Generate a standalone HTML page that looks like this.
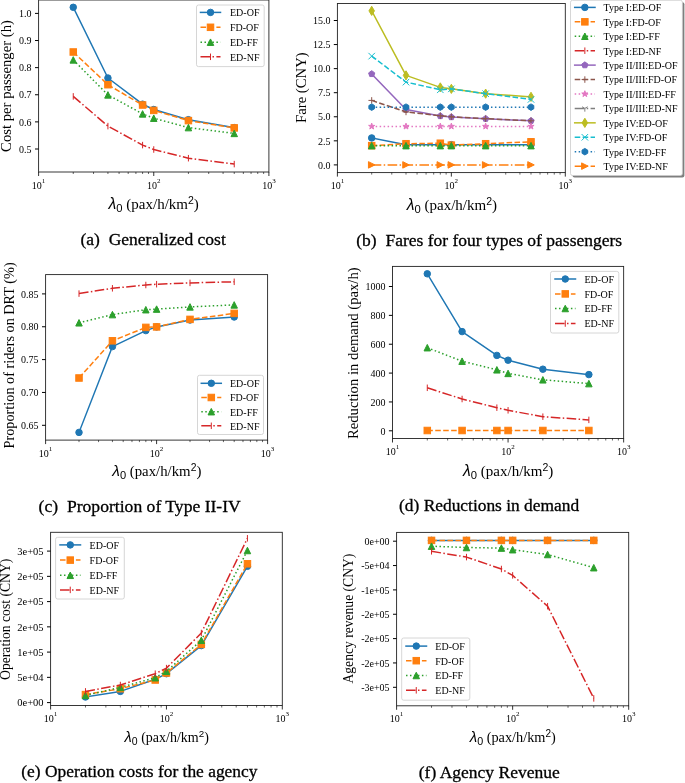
<!DOCTYPE html><html><head><meta charset="utf-8"><style>html,body{margin:0;padding:0;background:#fff;overflow:hidden}svg{display:block;filter:blur(0.35px)} .cap{stroke:#000;stroke-width:0.3px}</style></head><body>
<svg width="685" height="783" viewBox="0 0 685 783">
<rect width="685" height="783" fill="#fff"/>
<clipPath id="clip0"><rect x="38.6" y="0" width="230.3" height="172"/></clipPath>
<g clip-path="url(#clip0)">
<path d="M73.26,7.3L107.93,78L142.59,104.2L153.75,109.5L188.41,119.7L234.24,127.6" fill="none" stroke="#1f77b4" stroke-width="1.5" stroke-linejoin="round" stroke-linecap="square"/>
<circle cx="73.26" cy="7.3" r="3.25" fill="#1f77b4" stroke="#1f77b4" stroke-width="1"/>
<circle cx="107.93" cy="78" r="3.25" fill="#1f77b4" stroke="#1f77b4" stroke-width="1"/>
<circle cx="142.59" cy="104.2" r="3.25" fill="#1f77b4" stroke="#1f77b4" stroke-width="1"/>
<circle cx="153.75" cy="109.5" r="3.25" fill="#1f77b4" stroke="#1f77b4" stroke-width="1"/>
<circle cx="188.41" cy="119.7" r="3.25" fill="#1f77b4" stroke="#1f77b4" stroke-width="1"/>
<circle cx="234.24" cy="127.6" r="3.25" fill="#1f77b4" stroke="#1f77b4" stroke-width="1"/>
<path d="M73.26,52L107.93,84.7L142.59,105L153.75,110.4L188.41,120.6L234.24,127.9" fill="none" stroke="#ff7f0e" stroke-width="1.5" stroke-linejoin="round" stroke-linecap="butt" stroke-dasharray="5.55,2.4"/>
<rect x="70.01" y="48.75" width="6.5" height="6.5" fill="#ff7f0e" stroke="#ff7f0e" stroke-width="1"/>
<rect x="104.68" y="81.45" width="6.5" height="6.5" fill="#ff7f0e" stroke="#ff7f0e" stroke-width="1"/>
<rect x="139.34" y="101.75" width="6.5" height="6.5" fill="#ff7f0e" stroke="#ff7f0e" stroke-width="1"/>
<rect x="150.5" y="107.15" width="6.5" height="6.5" fill="#ff7f0e" stroke="#ff7f0e" stroke-width="1"/>
<rect x="185.16" y="117.35" width="6.5" height="6.5" fill="#ff7f0e" stroke="#ff7f0e" stroke-width="1"/>
<rect x="230.99" y="124.65" width="6.5" height="6.5" fill="#ff7f0e" stroke="#ff7f0e" stroke-width="1"/>
<path d="M73.26,59.9L107.93,94.9L142.59,113.9L153.75,118.2L188.41,127.6L234.24,133.4" fill="none" stroke="#2ca02c" stroke-width="1.5" stroke-linejoin="round" stroke-linecap="butt" stroke-dasharray="1.5,2.475"/>
<path d="M73.26,56.65L70.01,63.15L76.51,63.15Z" fill="#2ca02c" stroke="#2ca02c" stroke-width="1"/>
<path d="M107.93,91.65L104.68,98.15L111.18,98.15Z" fill="#2ca02c" stroke="#2ca02c" stroke-width="1"/>
<path d="M142.59,110.65L139.34,117.15L145.84,117.15Z" fill="#2ca02c" stroke="#2ca02c" stroke-width="1"/>
<path d="M153.75,114.95L150.5,121.45L157,121.45Z" fill="#2ca02c" stroke="#2ca02c" stroke-width="1"/>
<path d="M188.41,124.35L185.16,130.85L191.66,130.85Z" fill="#2ca02c" stroke="#2ca02c" stroke-width="1"/>
<path d="M234.24,130.15L230.99,136.65L237.49,136.65Z" fill="#2ca02c" stroke="#2ca02c" stroke-width="1"/>
<path d="M73.26,96.4L107.93,126.1L142.59,145.1L153.75,149.5L188.41,158.2L234.24,164.1" fill="none" stroke="#d62728" stroke-width="1.5" stroke-linejoin="round" stroke-linecap="butt" stroke-dasharray="9.6,2.4,1.5,2.4"/>
<path d="M73.26,93.15V99.65" stroke="#d62728" stroke-width="1" fill="none"/>
<path d="M107.93,122.85V129.35" stroke="#d62728" stroke-width="1" fill="none"/>
<path d="M142.59,141.85V148.35" stroke="#d62728" stroke-width="1" fill="none"/>
<path d="M153.75,146.25V152.75" stroke="#d62728" stroke-width="1" fill="none"/>
<path d="M188.41,154.95V161.45" stroke="#d62728" stroke-width="1" fill="none"/>
<path d="M234.24,160.85V167.35" stroke="#d62728" stroke-width="1" fill="none"/>
</g>
<rect x="38.6" y="0" width="230.3" height="172" fill="none" stroke="#222" stroke-width="0.9"/>
<text x="31.6" y="17.1" font-family="'Liberation Serif', serif" font-size="10" text-anchor="end">1.0</text>
<text x="31.6" y="44.22" font-family="'Liberation Serif', serif" font-size="10" text-anchor="end">0.9</text>
<text x="31.6" y="71.34" font-family="'Liberation Serif', serif" font-size="10" text-anchor="end">0.8</text>
<text x="31.6" y="98.46" font-family="'Liberation Serif', serif" font-size="10" text-anchor="end">0.7</text>
<text x="31.6" y="125.58" font-family="'Liberation Serif', serif" font-size="10" text-anchor="end">0.6</text>
<text x="31.6" y="152.7" font-family="'Liberation Serif', serif" font-size="10" text-anchor="end">0.5</text>
<path d="M35,13.4H38.6M35,40.52H38.6M35,67.64H38.6M35,94.76H38.6M35,121.88H38.6M35,149H38.6" stroke="#000" stroke-width="1"/>
<text x="38.6" y="188.5" font-family="'Liberation Serif', serif" font-size="10" text-anchor="middle">10<tspan font-size="7" dy="-6">1</tspan></text>
<text x="153.75" y="188.5" font-family="'Liberation Serif', serif" font-size="10" text-anchor="middle">10<tspan font-size="7" dy="-6">2</tspan></text>
<text x="268.9" y="188.5" font-family="'Liberation Serif', serif" font-size="10" text-anchor="middle">10<tspan font-size="7" dy="-6">3</tspan></text>
<path d="M38.6,172V176M153.75,172V176M268.9,172V176" stroke="#000" stroke-width="0.8"/>
<path d="M73.26,172V174M93.54,172V174M107.93,172V174M119.09,172V174M128.2,172V174M135.91,172V174M142.59,172V174M148.48,172V174M188.41,172V174M208.69,172V174M223.08,172V174M234.24,172V174M243.35,172V174M251.06,172V174M257.74,172V174M263.63,172V174" stroke="#000" stroke-width="0.6"/>
<text transform="translate(11,86) rotate(-90)" font-family="'Liberation Serif', serif" font-size="14.7" text-anchor="middle">Cost per passenger (h)</text>
<text x="153.7" y="209.3" font-size="15" text-anchor="middle" font-family="'Liberation Serif', serif"><tspan font-family="'Liberation Sans', sans-serif" font-style="italic" font-size="15.75">λ</tspan><tspan font-family="'Liberation Sans', sans-serif" font-size="11.25" dy="3">0</tspan><tspan dy="-3"> (pax/h/km</tspan><tspan font-family="'Liberation Sans', sans-serif" font-size="10.5" dy="-4.95">2</tspan><tspan dy="4.95">)</tspan></text>
<text x="80.5" y="245.2" font-family="'Liberation Serif', serif" font-size="17.5" text-anchor="start" xml:space="preserve" class="cap">(a)  Generalized cost</text>
<rect x="196.5" y="5" width="67.7" height="61.6" rx="2" fill="#fff" fill-opacity="0.8" stroke="#ccc" stroke-width="0.8"/>
<path d="M200.5,12.4L220.5,12.4" fill="none" stroke="#1f77b4" stroke-width="1.5" stroke-linejoin="round" stroke-linecap="square"/>
<circle cx="210.5" cy="12.4" r="3.25" fill="#1f77b4" stroke="#1f77b4" stroke-width="1"/>
<text x="230" y="16.3" font-family="'Liberation Serif', serif" font-size="10" text-anchor="start">ED-OF</text>
<path d="M200.5,27.3L220.5,27.3" fill="none" stroke="#ff7f0e" stroke-width="1.5" stroke-linejoin="round" stroke-linecap="butt" stroke-dasharray="5.55,2.4"/>
<rect x="207.25" y="24.05" width="6.5" height="6.5" fill="#ff7f0e" stroke="#ff7f0e" stroke-width="1"/>
<text x="230" y="31.2" font-family="'Liberation Serif', serif" font-size="10" text-anchor="start">FD-OF</text>
<path d="M200.5,42.2L220.5,42.2" fill="none" stroke="#2ca02c" stroke-width="1.5" stroke-linejoin="round" stroke-linecap="butt" stroke-dasharray="1.5,2.475"/>
<path d="M210.5,38.95L207.25,45.45L213.75,45.45Z" fill="#2ca02c" stroke="#2ca02c" stroke-width="1"/>
<text x="230" y="46.1" font-family="'Liberation Serif', serif" font-size="10" text-anchor="start">ED-FF</text>
<path d="M200.5,56.8L220.5,56.8" fill="none" stroke="#d62728" stroke-width="1.5" stroke-linejoin="round" stroke-linecap="butt" stroke-dasharray="9.6,2.4,1.5,2.4"/>
<path d="M210.5,53.55V60.05" stroke="#d62728" stroke-width="1" fill="none"/>
<text x="230" y="60.7" font-family="'Liberation Serif', serif" font-size="10" text-anchor="start">ED-NF</text>
<clipPath id="clip1"><rect x="337.4" y="3.45" width="227.9" height="169.15"/></clipPath>
<g clip-path="url(#clip1)">
<path d="M371.7,137.94L406,144.68L440.31,144.68L451.35,144.68L485.65,144.68L531,144.68" fill="none" stroke="#1f77b4" stroke-width="1.5" stroke-linejoin="round" stroke-linecap="square"/>
<circle cx="371.7" cy="137.94" r="3.25" fill="#1f77b4" stroke="#1f77b4" stroke-width="1"/>
<circle cx="406" cy="144.68" r="3.25" fill="#1f77b4" stroke="#1f77b4" stroke-width="1"/>
<circle cx="440.31" cy="144.68" r="3.25" fill="#1f77b4" stroke="#1f77b4" stroke-width="1"/>
<circle cx="451.35" cy="144.68" r="3.25" fill="#1f77b4" stroke="#1f77b4" stroke-width="1"/>
<circle cx="485.65" cy="144.68" r="3.25" fill="#1f77b4" stroke="#1f77b4" stroke-width="1"/>
<circle cx="531" cy="144.68" r="3.25" fill="#1f77b4" stroke="#1f77b4" stroke-width="1"/>
<path d="M371.7,145.65L406,143.72L440.31,143.24L451.35,145.16L485.65,143.72L531,141.8" fill="none" stroke="#ff7f0e" stroke-width="1.5" stroke-linejoin="round" stroke-linecap="butt" stroke-dasharray="5.55,2.4"/>
<rect x="368.45" y="142.4" width="6.5" height="6.5" fill="#ff7f0e" stroke="#ff7f0e" stroke-width="1"/>
<rect x="402.75" y="140.47" width="6.5" height="6.5" fill="#ff7f0e" stroke="#ff7f0e" stroke-width="1"/>
<rect x="437.06" y="139.99" width="6.5" height="6.5" fill="#ff7f0e" stroke="#ff7f0e" stroke-width="1"/>
<rect x="448.1" y="141.91" width="6.5" height="6.5" fill="#ff7f0e" stroke="#ff7f0e" stroke-width="1"/>
<rect x="482.4" y="140.47" width="6.5" height="6.5" fill="#ff7f0e" stroke="#ff7f0e" stroke-width="1"/>
<rect x="527.75" y="138.55" width="6.5" height="6.5" fill="#ff7f0e" stroke="#ff7f0e" stroke-width="1"/>
<path d="M371.7,145.65L406,145.65L440.31,145.65L451.35,145.65L485.65,145.65L531,145.65" fill="none" stroke="#2ca02c" stroke-width="1.5" stroke-linejoin="round" stroke-linecap="butt" stroke-dasharray="1.5,2.475"/>
<path d="M371.7,142.4L368.45,148.9L374.95,148.9Z" fill="#2ca02c" stroke="#2ca02c" stroke-width="1"/>
<path d="M406,142.4L402.75,148.9L409.25,148.9Z" fill="#2ca02c" stroke="#2ca02c" stroke-width="1"/>
<path d="M440.31,142.4L437.06,148.9L443.56,148.9Z" fill="#2ca02c" stroke="#2ca02c" stroke-width="1"/>
<path d="M451.35,142.4L448.1,148.9L454.6,148.9Z" fill="#2ca02c" stroke="#2ca02c" stroke-width="1"/>
<path d="M485.65,142.4L482.4,148.9L488.9,148.9Z" fill="#2ca02c" stroke="#2ca02c" stroke-width="1"/>
<path d="M531,142.4L527.75,148.9L534.25,148.9Z" fill="#2ca02c" stroke="#2ca02c" stroke-width="1"/>
<path d="M371.7,73.92L406,109.54L440.31,115.99L451.35,117.05L485.65,118.69L531,120.81" fill="none" stroke="#9467bd" stroke-width="1.5" stroke-linejoin="round" stroke-linecap="square"/>
<path d="M371.7,70.67L368.61,72.92L369.79,76.55L373.61,76.55L374.79,72.92Z" fill="#9467bd" stroke="#9467bd" stroke-width="1"/>
<path d="M406,106.29L402.91,108.54L404.09,112.17L407.92,112.17L409.1,108.54Z" fill="#9467bd" stroke="#9467bd" stroke-width="1"/>
<path d="M440.31,112.74L437.22,114.99L438.4,118.62L442.22,118.62L443.4,114.99Z" fill="#9467bd" stroke="#9467bd" stroke-width="1"/>
<path d="M451.35,113.8L448.26,116.05L449.44,119.68L453.26,119.68L454.44,116.05Z" fill="#9467bd" stroke="#9467bd" stroke-width="1"/>
<path d="M485.65,115.44L482.56,117.69L483.74,121.32L487.56,121.32L488.74,117.69Z" fill="#9467bd" stroke="#9467bd" stroke-width="1"/>
<path d="M531,117.56L527.91,119.8L529.09,123.44L532.91,123.44L534.09,119.8Z" fill="#9467bd" stroke="#9467bd" stroke-width="1"/>
<path d="M371.7,100.4L406,111.95L440.31,115.8L451.35,116.77L485.65,118.69L531,120.81" fill="none" stroke="#8c564b" stroke-width="1.5" stroke-linejoin="round" stroke-linecap="butt" stroke-dasharray="5.55,2.4"/>
<path d="M368.45,100.4H374.95M371.7,97.15V103.65" stroke="#8c564b" stroke-width="1" fill="none"/>
<path d="M402.75,111.95H409.25M406,108.7V115.2" stroke="#8c564b" stroke-width="1" fill="none"/>
<path d="M437.06,115.8H443.56M440.31,112.55V119.05" stroke="#8c564b" stroke-width="1" fill="none"/>
<path d="M448.1,116.77H454.6M451.35,113.52V120.02" stroke="#8c564b" stroke-width="1" fill="none"/>
<path d="M482.4,118.69H488.9M485.65,115.44V121.94" stroke="#8c564b" stroke-width="1" fill="none"/>
<path d="M527.75,120.81H534.25M531,117.56V124.06" stroke="#8c564b" stroke-width="1" fill="none"/>
<path d="M371.7,126.39L406,126.39L440.31,126.39L451.35,126.39L485.65,126.39L531,126.39" fill="none" stroke="#e377c2" stroke-width="1.5" stroke-linejoin="round" stroke-linecap="butt" stroke-dasharray="1.5,2.475"/>
<path d="M371.7,123.14L370.97,125.39L368.61,125.39L370.52,126.78L369.79,129.02L371.7,127.63L373.61,129.02L372.88,126.78L374.79,125.39L372.43,125.39Z" fill="#e377c2" stroke="#e377c2" stroke-width="1"/>
<path d="M406,123.14L405.28,125.39L402.91,125.39L404.82,126.78L404.09,129.02L406,127.63L407.92,129.02L407.19,126.78L409.1,125.39L406.73,125.39Z" fill="#e377c2" stroke="#e377c2" stroke-width="1"/>
<path d="M440.31,123.14L439.58,125.39L437.22,125.39L439.13,126.78L438.4,129.02L440.31,127.63L442.22,129.02L441.49,126.78L443.4,125.39L441.04,125.39Z" fill="#e377c2" stroke="#e377c2" stroke-width="1"/>
<path d="M451.35,123.14L450.62,125.39L448.26,125.39L450.17,126.78L449.44,129.02L451.35,127.63L453.26,129.02L452.53,126.78L454.44,125.39L452.08,125.39Z" fill="#e377c2" stroke="#e377c2" stroke-width="1"/>
<path d="M485.65,123.14L484.92,125.39L482.56,125.39L484.47,126.78L483.74,129.02L485.65,127.63L487.56,129.02L486.83,126.78L488.74,125.39L486.38,125.39Z" fill="#e377c2" stroke="#e377c2" stroke-width="1"/>
<path d="M531,123.14L530.27,125.39L527.91,125.39L529.82,126.78L529.09,129.02L531,127.63L532.91,129.02L532.18,126.78L534.09,125.39L531.73,125.39Z" fill="#e377c2" stroke="#e377c2" stroke-width="1"/>
<path d="M371.7,10.87L406,75.37L440.31,87.4L451.35,88.85L485.65,93.66L531,96.84" fill="none" stroke="#bcbd22" stroke-width="1.5" stroke-linejoin="round" stroke-linecap="square"/>
<path d="M371.7,6.27L374.46,10.87L371.7,15.46L368.94,10.87Z" fill="#bcbd22" stroke="#bcbd22" stroke-width="1"/>
<path d="M406,70.77L408.76,75.37L406,79.97L403.25,75.37Z" fill="#bcbd22" stroke="#bcbd22" stroke-width="1"/>
<path d="M440.31,82.81L443.06,87.4L440.31,92L437.55,87.4Z" fill="#bcbd22" stroke="#bcbd22" stroke-width="1"/>
<path d="M451.35,84.25L454.11,88.85L451.35,93.44L448.59,88.85Z" fill="#bcbd22" stroke="#bcbd22" stroke-width="1"/>
<path d="M485.65,89.06L488.41,93.66L485.65,98.26L482.89,93.66Z" fill="#bcbd22" stroke="#bcbd22" stroke-width="1"/>
<path d="M531,92.24L533.76,96.84L531,101.43L528.24,96.84Z" fill="#bcbd22" stroke="#bcbd22" stroke-width="1"/>
<path d="M371.7,56.11L406,82.11L440.31,89.81L451.35,88.85L485.65,93.66L531,99.44" fill="none" stroke="#17becf" stroke-width="1.5" stroke-linejoin="round" stroke-linecap="butt" stroke-dasharray="5.55,2.4"/>
<path d="M368.45,52.86L374.95,59.36M368.45,59.36L374.95,52.86" stroke="#17becf" stroke-width="1" fill="none"/>
<path d="M402.75,78.86L409.25,85.36M402.75,85.36L409.25,78.86" stroke="#17becf" stroke-width="1" fill="none"/>
<path d="M437.06,86.56L443.56,93.06M437.06,93.06L443.56,86.56" stroke="#17becf" stroke-width="1" fill="none"/>
<path d="M448.1,85.6L454.6,92.1M448.1,92.1L454.6,85.6" stroke="#17becf" stroke-width="1" fill="none"/>
<path d="M482.4,90.41L488.9,96.91M482.4,96.91L488.9,90.41" stroke="#17becf" stroke-width="1" fill="none"/>
<path d="M527.75,96.19L534.25,102.69M527.75,102.69L534.25,96.19" stroke="#17becf" stroke-width="1" fill="none"/>
<path d="M371.7,107.14L406,107.14L440.31,107.14L451.35,107.14L485.65,107.14L531,107.14" fill="none" stroke="#1f77b4" stroke-width="1.5" stroke-linejoin="round" stroke-linecap="butt" stroke-dasharray="1.5,2.475"/>
<path d="M371.7,103.89L368.89,105.51L368.89,108.76L371.7,110.39L374.52,108.76L374.52,105.51Z" fill="#1f77b4" stroke="#1f77b4" stroke-width="1"/>
<path d="M406,103.89L403.19,105.51L403.19,108.76L406,110.39L408.82,108.76L408.82,105.51Z" fill="#1f77b4" stroke="#1f77b4" stroke-width="1"/>
<path d="M440.31,103.89L437.49,105.51L437.49,108.76L440.31,110.39L443.12,108.76L443.12,105.51Z" fill="#1f77b4" stroke="#1f77b4" stroke-width="1"/>
<path d="M451.35,103.89L448.54,105.51L448.54,108.76L451.35,110.39L454.16,108.76L454.16,105.51Z" fill="#1f77b4" stroke="#1f77b4" stroke-width="1"/>
<path d="M485.65,103.89L482.84,105.51L482.84,108.76L485.65,110.39L488.47,108.76L488.47,105.51Z" fill="#1f77b4" stroke="#1f77b4" stroke-width="1"/>
<path d="M531,103.89L528.18,105.51L528.18,108.76L531,110.39L533.81,108.76L533.81,105.51Z" fill="#1f77b4" stroke="#1f77b4" stroke-width="1"/>
<path d="M371.7,164.9L406,164.9L440.31,164.9L451.35,164.9L485.65,164.9L531,164.9" fill="none" stroke="#ff7f0e" stroke-width="1.5" stroke-linejoin="round" stroke-linecap="butt" stroke-dasharray="9.6,2.4,1.5,2.4"/>
<path d="M374.95,164.9L368.45,161.65L368.45,168.15Z" fill="#ff7f0e" stroke="#ff7f0e" stroke-width="1"/>
<path d="M409.25,164.9L402.75,161.65L402.75,168.15Z" fill="#ff7f0e" stroke="#ff7f0e" stroke-width="1"/>
<path d="M443.56,164.9L437.06,161.65L437.06,168.15Z" fill="#ff7f0e" stroke="#ff7f0e" stroke-width="1"/>
<path d="M454.6,164.9L448.1,161.65L448.1,168.15Z" fill="#ff7f0e" stroke="#ff7f0e" stroke-width="1"/>
<path d="M488.9,164.9L482.4,161.65L482.4,168.15Z" fill="#ff7f0e" stroke="#ff7f0e" stroke-width="1"/>
<path d="M534.25,164.9L527.75,161.65L527.75,168.15Z" fill="#ff7f0e" stroke="#ff7f0e" stroke-width="1"/>
</g>
<rect x="337.4" y="3.45" width="227.9" height="169.15" fill="none" stroke="#222" stroke-width="0.9"/>
<text x="330.4" y="168.6" font-family="'Liberation Serif', serif" font-size="10" text-anchor="end">0.0</text>
<text x="330.4" y="144.53" font-family="'Liberation Serif', serif" font-size="10" text-anchor="end">2.5</text>
<text x="330.4" y="120.47" font-family="'Liberation Serif', serif" font-size="10" text-anchor="end">5.0</text>
<text x="330.4" y="96.4" font-family="'Liberation Serif', serif" font-size="10" text-anchor="end">7.5</text>
<text x="330.4" y="72.33" font-family="'Liberation Serif', serif" font-size="10" text-anchor="end">10.0</text>
<text x="330.4" y="48.26" font-family="'Liberation Serif', serif" font-size="10" text-anchor="end">12.5</text>
<text x="330.4" y="24.2" font-family="'Liberation Serif', serif" font-size="10" text-anchor="end">15.0</text>
<path d="M333.8,164.9H337.4M333.8,140.83H337.4M333.8,116.77H337.4M333.8,92.7H337.4M333.8,68.63H337.4M333.8,44.56H337.4M333.8,20.5H337.4" stroke="#000" stroke-width="1"/>
<text x="337.4" y="189.1" font-family="'Liberation Serif', serif" font-size="10" text-anchor="middle">10<tspan font-size="7" dy="-6">1</tspan></text>
<text x="451.35" y="189.1" font-family="'Liberation Serif', serif" font-size="10" text-anchor="middle">10<tspan font-size="7" dy="-6">2</tspan></text>
<text x="565.3" y="189.1" font-family="'Liberation Serif', serif" font-size="10" text-anchor="middle">10<tspan font-size="7" dy="-6">3</tspan></text>
<path d="M337.4,172.6V176.6M451.35,172.6V176.6M565.3,172.6V176.6" stroke="#000" stroke-width="0.8"/>
<path d="M371.7,172.6V174.6M391.77,172.6V174.6M406,172.6V174.6M417.05,172.6V174.6M426.07,172.6V174.6M433.7,172.6V174.6M440.31,172.6V174.6M446.14,172.6V174.6M485.65,172.6V174.6M505.72,172.6V174.6M519.95,172.6V174.6M531,172.6V174.6M540.02,172.6V174.6M547.65,172.6V174.6M554.26,172.6V174.6M560.09,172.6V174.6" stroke="#000" stroke-width="0.6"/>
<text transform="translate(305.5,87.65) rotate(-90)" font-family="'Liberation Serif', serif" font-size="14.7" text-anchor="middle">Fare (CNY)</text>
<text x="451.9" y="209.6" font-size="15" text-anchor="middle" font-family="'Liberation Serif', serif"><tspan font-family="'Liberation Sans', sans-serif" font-style="italic" font-size="15.75">λ</tspan><tspan font-family="'Liberation Sans', sans-serif" font-size="11.25" dy="3">0</tspan><tspan dy="-3"> (pax/h/km</tspan><tspan font-family="'Liberation Sans', sans-serif" font-size="10.5" dy="-4.95">2</tspan><tspan dy="4.95">)</tspan></text>
<text x="356.3" y="245.6" font-family="'Liberation Serif', serif" font-size="17.5" text-anchor="start" xml:space="preserve" class="cap">(b)  Fares for four types of passengers</text>
<rect x="572.5" y="2.3" width="111.9" height="175.2" rx="2" fill="#7f7f7f"/>
<rect x="570.5" y="0.3" width="111.9" height="175.2" rx="2" fill="#fff" stroke="#ccc" stroke-width="0.8"/>
<path d="M574.7,7.4L595,7.4" fill="none" stroke="#1f77b4" stroke-width="1.5" stroke-linejoin="round" stroke-linecap="square"/>
<circle cx="584.85" cy="7.4" r="3.25" fill="#1f77b4" stroke="#1f77b4" stroke-width="1"/>
<text x="603.5" y="11.3" font-family="'Liberation Serif', serif" font-size="10" text-anchor="start">Type I:ED-OF</text>
<path d="M574.7,21.83L595,21.83" fill="none" stroke="#ff7f0e" stroke-width="1.5" stroke-linejoin="round" stroke-linecap="butt" stroke-dasharray="5.55,2.4"/>
<rect x="581.6" y="18.58" width="6.5" height="6.5" fill="#ff7f0e" stroke="#ff7f0e" stroke-width="1"/>
<text x="603.5" y="25.73" font-family="'Liberation Serif', serif" font-size="10" text-anchor="start">Type I:FD-OF</text>
<path d="M574.7,36.26L595,36.26" fill="none" stroke="#2ca02c" stroke-width="1.5" stroke-linejoin="round" stroke-linecap="butt" stroke-dasharray="1.5,2.475"/>
<path d="M584.85,33.01L581.6,39.51L588.1,39.51Z" fill="#2ca02c" stroke="#2ca02c" stroke-width="1"/>
<text x="603.5" y="40.16" font-family="'Liberation Serif', serif" font-size="10" text-anchor="start">Type I:ED-FF</text>
<path d="M574.7,50.69L595,50.69" fill="none" stroke="#d62728" stroke-width="1.5" stroke-linejoin="round" stroke-linecap="butt" stroke-dasharray="9.6,2.4,1.5,2.4"/>
<path d="M584.85,47.44V53.94" stroke="#d62728" stroke-width="1" fill="none"/>
<text x="603.5" y="54.59" font-family="'Liberation Serif', serif" font-size="10" text-anchor="start">Type I:ED-NF</text>
<path d="M574.7,65.12L595,65.12" fill="none" stroke="#9467bd" stroke-width="1.5" stroke-linejoin="round" stroke-linecap="square"/>
<path d="M584.85,61.87L581.76,64.12L582.94,67.75L586.76,67.75L587.94,64.12Z" fill="#9467bd" stroke="#9467bd" stroke-width="1"/>
<text x="603.5" y="69.02" font-family="'Liberation Serif', serif" font-size="10" text-anchor="start">Type II/III:ED-OF</text>
<path d="M574.7,79.55L595,79.55" fill="none" stroke="#8c564b" stroke-width="1.5" stroke-linejoin="round" stroke-linecap="butt" stroke-dasharray="5.55,2.4"/>
<path d="M581.6,79.55H588.1M584.85,76.3V82.8" stroke="#8c564b" stroke-width="1" fill="none"/>
<text x="603.5" y="83.45" font-family="'Liberation Serif', serif" font-size="10" text-anchor="start">Type II/III:FD-OF</text>
<path d="M574.7,93.98L595,93.98" fill="none" stroke="#e377c2" stroke-width="1.5" stroke-linejoin="round" stroke-linecap="butt" stroke-dasharray="1.5,2.475"/>
<path d="M584.85,90.73L584.12,92.98L581.76,92.98L583.67,94.36L582.94,96.61L584.85,95.22L586.76,96.61L586.03,94.36L587.94,92.98L585.58,92.98Z" fill="#e377c2" stroke="#e377c2" stroke-width="1"/>
<text x="603.5" y="97.88" font-family="'Liberation Serif', serif" font-size="10" text-anchor="start">Type II/III:ED-FF</text>
<path d="M574.7,108.41L595,108.41" fill="none" stroke="#7f7f7f" stroke-width="1.5" stroke-linejoin="round" stroke-linecap="butt" stroke-dasharray="9.6,2.4,1.5,2.4"/>
<path d="M584.85,108.41V111.66M584.85,108.41L587.66,106.78M584.85,108.41L582.04,106.78" stroke="#7f7f7f" stroke-width="1" fill="none"/>
<text x="603.5" y="112.31" font-family="'Liberation Serif', serif" font-size="10" text-anchor="start">Type II/III:ED-NF</text>
<path d="M574.7,122.84L595,122.84" fill="none" stroke="#bcbd22" stroke-width="1.5" stroke-linejoin="round" stroke-linecap="square"/>
<path d="M584.85,118.24L587.61,122.84L584.85,127.44L582.09,122.84Z" fill="#bcbd22" stroke="#bcbd22" stroke-width="1"/>
<text x="603.5" y="126.74" font-family="'Liberation Serif', serif" font-size="10" text-anchor="start">Type IV:ED-OF</text>
<path d="M574.7,137.27L595,137.27" fill="none" stroke="#17becf" stroke-width="1.5" stroke-linejoin="round" stroke-linecap="butt" stroke-dasharray="5.55,2.4"/>
<path d="M581.6,134.02L588.1,140.52M581.6,140.52L588.1,134.02" stroke="#17becf" stroke-width="1" fill="none"/>
<text x="603.5" y="141.17" font-family="'Liberation Serif', serif" font-size="10" text-anchor="start">Type IV:FD-OF</text>
<path d="M574.7,151.7L595,151.7" fill="none" stroke="#1f77b4" stroke-width="1.5" stroke-linejoin="round" stroke-linecap="butt" stroke-dasharray="1.5,2.475"/>
<path d="M584.85,148.45L582.04,150.08L582.04,153.33L584.85,154.95L587.66,153.33L587.66,150.08Z" fill="#1f77b4" stroke="#1f77b4" stroke-width="1"/>
<text x="603.5" y="155.6" font-family="'Liberation Serif', serif" font-size="10" text-anchor="start">Type IV:ED-FF</text>
<path d="M574.7,166.13L595,166.13" fill="none" stroke="#ff7f0e" stroke-width="1.5" stroke-linejoin="round" stroke-linecap="butt" stroke-dasharray="9.6,2.4,1.5,2.4"/>
<path d="M588.1,166.13L581.6,162.88L581.6,169.38Z" fill="#ff7f0e" stroke="#ff7f0e" stroke-width="1"/>
<text x="603.5" y="170.03" font-family="'Liberation Serif', serif" font-size="10" text-anchor="start">Type IV:ED-NF</text>
<clipPath id="clip2"><rect x="45.6" y="274.6" width="222" height="165.5"/></clipPath>
<g clip-path="url(#clip2)">
<path d="M79.01,432.4L112.43,346.6L145.84,330.6L156.6,326.9L190.01,320L234.19,317" fill="none" stroke="#1f77b4" stroke-width="1.5" stroke-linejoin="round" stroke-linecap="square"/>
<circle cx="79.01" cy="432.4" r="3.25" fill="#1f77b4" stroke="#1f77b4" stroke-width="1"/>
<circle cx="112.43" cy="346.6" r="3.25" fill="#1f77b4" stroke="#1f77b4" stroke-width="1"/>
<circle cx="145.84" cy="330.6" r="3.25" fill="#1f77b4" stroke="#1f77b4" stroke-width="1"/>
<circle cx="156.6" cy="326.9" r="3.25" fill="#1f77b4" stroke="#1f77b4" stroke-width="1"/>
<circle cx="190.01" cy="320" r="3.25" fill="#1f77b4" stroke="#1f77b4" stroke-width="1"/>
<circle cx="234.19" cy="317" r="3.25" fill="#1f77b4" stroke="#1f77b4" stroke-width="1"/>
<path d="M79.01,378L112.43,340.8L145.84,327.4L156.6,326.9L190.01,319.4L234.19,313.4" fill="none" stroke="#ff7f0e" stroke-width="1.5" stroke-linejoin="round" stroke-linecap="butt" stroke-dasharray="5.55,2.4"/>
<rect x="75.76" y="374.75" width="6.5" height="6.5" fill="#ff7f0e" stroke="#ff7f0e" stroke-width="1"/>
<rect x="109.18" y="337.55" width="6.5" height="6.5" fill="#ff7f0e" stroke="#ff7f0e" stroke-width="1"/>
<rect x="142.59" y="324.15" width="6.5" height="6.5" fill="#ff7f0e" stroke="#ff7f0e" stroke-width="1"/>
<rect x="153.35" y="323.65" width="6.5" height="6.5" fill="#ff7f0e" stroke="#ff7f0e" stroke-width="1"/>
<rect x="186.76" y="316.15" width="6.5" height="6.5" fill="#ff7f0e" stroke="#ff7f0e" stroke-width="1"/>
<rect x="230.94" y="310.15" width="6.5" height="6.5" fill="#ff7f0e" stroke="#ff7f0e" stroke-width="1"/>
<path d="M79.01,322.8L112.43,314.6L145.84,309.7L156.6,309.1L190.01,306.9L234.19,304.9" fill="none" stroke="#2ca02c" stroke-width="1.5" stroke-linejoin="round" stroke-linecap="butt" stroke-dasharray="1.5,2.475"/>
<path d="M79.01,319.55L75.76,326.05L82.26,326.05Z" fill="#2ca02c" stroke="#2ca02c" stroke-width="1"/>
<path d="M112.43,311.35L109.18,317.85L115.68,317.85Z" fill="#2ca02c" stroke="#2ca02c" stroke-width="1"/>
<path d="M145.84,306.45L142.59,312.95L149.09,312.95Z" fill="#2ca02c" stroke="#2ca02c" stroke-width="1"/>
<path d="M156.6,305.85L153.35,312.35L159.85,312.35Z" fill="#2ca02c" stroke="#2ca02c" stroke-width="1"/>
<path d="M190.01,303.65L186.76,310.15L193.26,310.15Z" fill="#2ca02c" stroke="#2ca02c" stroke-width="1"/>
<path d="M234.19,301.65L230.94,308.15L237.44,308.15Z" fill="#2ca02c" stroke="#2ca02c" stroke-width="1"/>
<path d="M79.01,293.6L112.43,288.3L145.84,285L156.6,284.2L190.01,282.9L234.19,281.8" fill="none" stroke="#d62728" stroke-width="1.5" stroke-linejoin="round" stroke-linecap="butt" stroke-dasharray="9.6,2.4,1.5,2.4"/>
<path d="M79.01,290.35V296.85" stroke="#d62728" stroke-width="1" fill="none"/>
<path d="M112.43,285.05V291.55" stroke="#d62728" stroke-width="1" fill="none"/>
<path d="M145.84,281.75V288.25" stroke="#d62728" stroke-width="1" fill="none"/>
<path d="M156.6,280.95V287.45" stroke="#d62728" stroke-width="1" fill="none"/>
<path d="M190.01,279.65V286.15" stroke="#d62728" stroke-width="1" fill="none"/>
<path d="M234.19,278.55V285.05" stroke="#d62728" stroke-width="1" fill="none"/>
</g>
<rect x="45.6" y="274.6" width="222" height="165.5" fill="none" stroke="#222" stroke-width="0.9"/>
<text x="38.6" y="429" font-family="'Liberation Serif', serif" font-size="10" text-anchor="end">0.65</text>
<text x="38.6" y="396.15" font-family="'Liberation Serif', serif" font-size="10" text-anchor="end">0.70</text>
<text x="38.6" y="363.3" font-family="'Liberation Serif', serif" font-size="10" text-anchor="end">0.75</text>
<text x="38.6" y="330.45" font-family="'Liberation Serif', serif" font-size="10" text-anchor="end">0.80</text>
<text x="38.6" y="297.6" font-family="'Liberation Serif', serif" font-size="10" text-anchor="end">0.85</text>
<path d="M42,425.3H45.6M42,392.45H45.6M42,359.6H45.6M42,326.75H45.6M42,293.9H45.6" stroke="#000" stroke-width="1"/>
<text x="45.6" y="456.6" font-family="'Liberation Serif', serif" font-size="10" text-anchor="middle">10<tspan font-size="7" dy="-6">1</tspan></text>
<text x="156.6" y="456.6" font-family="'Liberation Serif', serif" font-size="10" text-anchor="middle">10<tspan font-size="7" dy="-6">2</tspan></text>
<text x="267.6" y="456.6" font-family="'Liberation Serif', serif" font-size="10" text-anchor="middle">10<tspan font-size="7" dy="-6">3</tspan></text>
<path d="M45.6,440.1V444.1M156.6,440.1V444.1M267.6,440.1V444.1" stroke="#000" stroke-width="0.8"/>
<path d="M79.01,440.1V442.1M98.56,440.1V442.1M112.43,440.1V442.1M123.19,440.1V442.1M131.97,440.1V442.1M139.41,440.1V442.1M145.84,440.1V442.1M151.52,440.1V442.1M190.01,440.1V442.1M209.56,440.1V442.1M223.43,440.1V442.1M234.19,440.1V442.1M242.97,440.1V442.1M250.41,440.1V442.1M256.84,440.1V442.1M262.52,440.1V442.1" stroke="#000" stroke-width="0.6"/>
<text transform="translate(14.4,355.4) rotate(-90)" font-family="'Liberation Serif', serif" font-size="14.25" text-anchor="middle">Proportion of riders on DRT (%)</text>
<text x="156.8" y="476.3" font-size="14.8" text-anchor="middle" font-family="'Liberation Serif', serif"><tspan font-family="'Liberation Sans', sans-serif" font-style="italic" font-size="15.54">λ</tspan><tspan font-family="'Liberation Sans', sans-serif" font-size="11.1" dy="2.96">0</tspan><tspan dy="-2.96"> (pax/h/km</tspan><tspan font-family="'Liberation Sans', sans-serif" font-size="10.36" dy="-4.88">2</tspan><tspan dy="4.88">)</tspan></text>
<text x="38.6" y="511.5" font-family="'Liberation Serif', serif" font-size="17.6" text-anchor="start" xml:space="preserve" class="cap">(c)  Proportion of Type II-IV</text>
<rect x="197.5" y="375.3" width="66" height="59.2" rx="2" fill="#fff" fill-opacity="0.8" stroke="#ccc" stroke-width="0.8"/>
<path d="M201.3,383.3L221.3,383.3" fill="none" stroke="#1f77b4" stroke-width="1.5" stroke-linejoin="round" stroke-linecap="square"/>
<circle cx="211.3" cy="383.3" r="3.25" fill="#1f77b4" stroke="#1f77b4" stroke-width="1"/>
<text x="230" y="387.2" font-family="'Liberation Serif', serif" font-size="10" text-anchor="start">ED-OF</text>
<path d="M201.3,397.5L221.3,397.5" fill="none" stroke="#ff7f0e" stroke-width="1.5" stroke-linejoin="round" stroke-linecap="butt" stroke-dasharray="5.55,2.4"/>
<rect x="208.05" y="394.25" width="6.5" height="6.5" fill="#ff7f0e" stroke="#ff7f0e" stroke-width="1"/>
<text x="230" y="401.4" font-family="'Liberation Serif', serif" font-size="10" text-anchor="start">FD-OF</text>
<path d="M201.3,411.7L221.3,411.7" fill="none" stroke="#2ca02c" stroke-width="1.5" stroke-linejoin="round" stroke-linecap="butt" stroke-dasharray="1.5,2.475"/>
<path d="M211.3,408.45L208.05,414.95L214.55,414.95Z" fill="#2ca02c" stroke="#2ca02c" stroke-width="1"/>
<text x="230" y="415.6" font-family="'Liberation Serif', serif" font-size="10" text-anchor="start">ED-FF</text>
<path d="M201.3,425.8L221.3,425.8" fill="none" stroke="#d62728" stroke-width="1.5" stroke-linejoin="round" stroke-linecap="butt" stroke-dasharray="9.6,2.4,1.5,2.4"/>
<path d="M211.3,422.55V429.05" stroke="#d62728" stroke-width="1" fill="none"/>
<text x="230" y="429.7" font-family="'Liberation Serif', serif" font-size="10" text-anchor="start">ED-NF</text>
<clipPath id="clip3"><rect x="392.5" y="266.4" width="231.15" height="172.1"/></clipPath>
<g clip-path="url(#clip3)">
<path d="M427.29,273.8L462.08,331.6L496.87,355.4L508.07,360.2L542.87,369.2L588.86,374.6" fill="none" stroke="#1f77b4" stroke-width="1.5" stroke-linejoin="round" stroke-linecap="square"/>
<circle cx="427.29" cy="273.8" r="3.25" fill="#1f77b4" stroke="#1f77b4" stroke-width="1"/>
<circle cx="462.08" cy="331.6" r="3.25" fill="#1f77b4" stroke="#1f77b4" stroke-width="1"/>
<circle cx="496.87" cy="355.4" r="3.25" fill="#1f77b4" stroke="#1f77b4" stroke-width="1"/>
<circle cx="508.07" cy="360.2" r="3.25" fill="#1f77b4" stroke="#1f77b4" stroke-width="1"/>
<circle cx="542.87" cy="369.2" r="3.25" fill="#1f77b4" stroke="#1f77b4" stroke-width="1"/>
<circle cx="588.86" cy="374.6" r="3.25" fill="#1f77b4" stroke="#1f77b4" stroke-width="1"/>
<path d="M427.29,430.5L462.08,430.5L496.87,430.5L508.07,430.5L542.87,430.5L588.86,430.5" fill="none" stroke="#ff7f0e" stroke-width="1.5" stroke-linejoin="round" stroke-linecap="butt" stroke-dasharray="5.55,2.4"/>
<rect x="424.04" y="427.25" width="6.5" height="6.5" fill="#ff7f0e" stroke="#ff7f0e" stroke-width="1"/>
<rect x="458.83" y="427.25" width="6.5" height="6.5" fill="#ff7f0e" stroke="#ff7f0e" stroke-width="1"/>
<rect x="493.62" y="427.25" width="6.5" height="6.5" fill="#ff7f0e" stroke="#ff7f0e" stroke-width="1"/>
<rect x="504.82" y="427.25" width="6.5" height="6.5" fill="#ff7f0e" stroke="#ff7f0e" stroke-width="1"/>
<rect x="539.62" y="427.25" width="6.5" height="6.5" fill="#ff7f0e" stroke="#ff7f0e" stroke-width="1"/>
<rect x="585.61" y="427.25" width="6.5" height="6.5" fill="#ff7f0e" stroke="#ff7f0e" stroke-width="1"/>
<path d="M427.29,347.7L462.08,361.2L496.87,369.8L508.07,373.4L542.87,379.8L588.86,383.6" fill="none" stroke="#2ca02c" stroke-width="1.5" stroke-linejoin="round" stroke-linecap="butt" stroke-dasharray="1.5,2.475"/>
<path d="M427.29,344.45L424.04,350.95L430.54,350.95Z" fill="#2ca02c" stroke="#2ca02c" stroke-width="1"/>
<path d="M462.08,357.95L458.83,364.45L465.33,364.45Z" fill="#2ca02c" stroke="#2ca02c" stroke-width="1"/>
<path d="M496.87,366.55L493.62,373.05L500.12,373.05Z" fill="#2ca02c" stroke="#2ca02c" stroke-width="1"/>
<path d="M508.07,370.15L504.82,376.65L511.32,376.65Z" fill="#2ca02c" stroke="#2ca02c" stroke-width="1"/>
<path d="M542.87,376.55L539.62,383.05L546.12,383.05Z" fill="#2ca02c" stroke="#2ca02c" stroke-width="1"/>
<path d="M588.86,380.35L585.61,386.85L592.11,386.85Z" fill="#2ca02c" stroke="#2ca02c" stroke-width="1"/>
<path d="M427.29,387.8L462.08,399L496.87,407.7L508.07,410.3L542.87,416.7L588.86,419.9" fill="none" stroke="#d62728" stroke-width="1.5" stroke-linejoin="round" stroke-linecap="butt" stroke-dasharray="9.6,2.4,1.5,2.4"/>
<path d="M427.29,384.55V391.05" stroke="#d62728" stroke-width="1" fill="none"/>
<path d="M462.08,395.75V402.25" stroke="#d62728" stroke-width="1" fill="none"/>
<path d="M496.87,404.45V410.95" stroke="#d62728" stroke-width="1" fill="none"/>
<path d="M508.07,407.05V413.55" stroke="#d62728" stroke-width="1" fill="none"/>
<path d="M542.87,413.45V419.95" stroke="#d62728" stroke-width="1" fill="none"/>
<path d="M588.86,416.65V423.15" stroke="#d62728" stroke-width="1" fill="none"/>
</g>
<rect x="392.5" y="266.4" width="231.15" height="172.1" fill="none" stroke="#222" stroke-width="0.9"/>
<text x="385.5" y="434.5" font-family="'Liberation Serif', serif" font-size="10" text-anchor="end">0</text>
<text x="385.5" y="405.64" font-family="'Liberation Serif', serif" font-size="10" text-anchor="end">200</text>
<text x="385.5" y="376.78" font-family="'Liberation Serif', serif" font-size="10" text-anchor="end">400</text>
<text x="385.5" y="347.92" font-family="'Liberation Serif', serif" font-size="10" text-anchor="end">600</text>
<text x="385.5" y="319.06" font-family="'Liberation Serif', serif" font-size="10" text-anchor="end">800</text>
<text x="385.5" y="290.2" font-family="'Liberation Serif', serif" font-size="10" text-anchor="end">1000</text>
<path d="M388.9,430.8H392.5M388.9,401.94H392.5M388.9,373.08H392.5M388.9,344.22H392.5M388.9,315.36H392.5M388.9,286.5H392.5" stroke="#000" stroke-width="1"/>
<text x="392.5" y="455" font-family="'Liberation Serif', serif" font-size="10" text-anchor="middle">10<tspan font-size="7" dy="-6">1</tspan></text>
<text x="508.07" y="455" font-family="'Liberation Serif', serif" font-size="10" text-anchor="middle">10<tspan font-size="7" dy="-6">2</tspan></text>
<text x="623.65" y="455" font-family="'Liberation Serif', serif" font-size="10" text-anchor="middle">10<tspan font-size="7" dy="-6">3</tspan></text>
<path d="M392.5,438.5V442.5M508.07,438.5V442.5M623.65,438.5V442.5" stroke="#000" stroke-width="0.8"/>
<path d="M427.29,438.5V440.5M447.64,438.5V440.5M462.08,438.5V440.5M473.28,438.5V440.5M482.43,438.5V440.5M490.17,438.5V440.5M496.87,438.5V440.5M502.79,438.5V440.5M542.87,438.5V440.5M563.22,438.5V440.5M577.66,438.5V440.5M588.86,438.5V440.5M598.01,438.5V440.5M605.75,438.5V440.5M612.45,438.5V440.5M618.36,438.5V440.5" stroke="#000" stroke-width="0.6"/>
<text transform="translate(358,353.2) rotate(-90)" font-family="'Liberation Serif', serif" font-size="14.7" text-anchor="middle">Reduction in demand (pax/h)</text>
<text x="508.2" y="475.8" font-size="15" text-anchor="middle" font-family="'Liberation Serif', serif"><tspan font-family="'Liberation Sans', sans-serif" font-style="italic" font-size="15.75">λ</tspan><tspan font-family="'Liberation Sans', sans-serif" font-size="11.25" dy="3">0</tspan><tspan dy="-3"> (pax/h/km</tspan><tspan font-family="'Liberation Sans', sans-serif" font-size="10.5" dy="-4.95">2</tspan><tspan dy="4.95">)</tspan></text>
<text x="399" y="511.2" font-family="'Liberation Serif', serif" font-size="17.4" text-anchor="start" xml:space="preserve" class="cap">(d) Reductions in demand</text>
<rect x="550.5" y="271.4" width="68.3" height="61.6" rx="2" fill="#fff" fill-opacity="0.8" stroke="#ccc" stroke-width="0.8"/>
<path d="M555,279L575.5,279" fill="none" stroke="#1f77b4" stroke-width="1.5" stroke-linejoin="round" stroke-linecap="square"/>
<circle cx="565.25" cy="279" r="3.25" fill="#1f77b4" stroke="#1f77b4" stroke-width="1"/>
<text x="584.5" y="282.9" font-family="'Liberation Serif', serif" font-size="10" text-anchor="start">ED-OF</text>
<path d="M555,293.9L575.5,293.9" fill="none" stroke="#ff7f0e" stroke-width="1.5" stroke-linejoin="round" stroke-linecap="butt" stroke-dasharray="5.55,2.4"/>
<rect x="562" y="290.65" width="6.5" height="6.5" fill="#ff7f0e" stroke="#ff7f0e" stroke-width="1"/>
<text x="584.5" y="297.8" font-family="'Liberation Serif', serif" font-size="10" text-anchor="start">FD-OF</text>
<path d="M555,308.5L575.5,308.5" fill="none" stroke="#2ca02c" stroke-width="1.5" stroke-linejoin="round" stroke-linecap="butt" stroke-dasharray="1.5,2.475"/>
<path d="M565.25,305.25L562,311.75L568.5,311.75Z" fill="#2ca02c" stroke="#2ca02c" stroke-width="1"/>
<text x="584.5" y="312.4" font-family="'Liberation Serif', serif" font-size="10" text-anchor="start">ED-FF</text>
<path d="M555,323.5L575.5,323.5" fill="none" stroke="#d62728" stroke-width="1.5" stroke-linejoin="round" stroke-linecap="butt" stroke-dasharray="9.6,2.4,1.5,2.4"/>
<path d="M565.25,320.25V326.75" stroke="#d62728" stroke-width="1" fill="none"/>
<text x="584.5" y="327.4" font-family="'Liberation Serif', serif" font-size="10" text-anchor="start">ED-NF</text>
<clipPath id="clip4"><rect x="50.6" y="532.3" width="231.7" height="173.2"/></clipPath>
<g clip-path="url(#clip4)">
<path d="M85.47,697L120.35,691.4L155.22,679.3L166.45,673.7L201.32,645.6L247.43,566.3" fill="none" stroke="#1f77b4" stroke-width="1.5" stroke-linejoin="round" stroke-linecap="square"/>
<circle cx="85.47" cy="697" r="3.25" fill="#1f77b4" stroke="#1f77b4" stroke-width="1"/>
<circle cx="120.35" cy="691.4" r="3.25" fill="#1f77b4" stroke="#1f77b4" stroke-width="1"/>
<circle cx="155.22" cy="679.3" r="3.25" fill="#1f77b4" stroke="#1f77b4" stroke-width="1"/>
<circle cx="166.45" cy="673.7" r="3.25" fill="#1f77b4" stroke="#1f77b4" stroke-width="1"/>
<circle cx="201.32" cy="645.6" r="3.25" fill="#1f77b4" stroke="#1f77b4" stroke-width="1"/>
<circle cx="247.43" cy="566.3" r="3.25" fill="#1f77b4" stroke="#1f77b4" stroke-width="1"/>
<path d="M85.47,694.6L120.35,688.7L155.22,680L166.45,673L201.32,644.4L247.43,563.8" fill="none" stroke="#ff7f0e" stroke-width="1.5" stroke-linejoin="round" stroke-linecap="butt" stroke-dasharray="5.55,2.4"/>
<rect x="82.22" y="691.35" width="6.5" height="6.5" fill="#ff7f0e" stroke="#ff7f0e" stroke-width="1"/>
<rect x="117.1" y="685.45" width="6.5" height="6.5" fill="#ff7f0e" stroke="#ff7f0e" stroke-width="1"/>
<rect x="151.97" y="676.75" width="6.5" height="6.5" fill="#ff7f0e" stroke="#ff7f0e" stroke-width="1"/>
<rect x="163.2" y="669.75" width="6.5" height="6.5" fill="#ff7f0e" stroke="#ff7f0e" stroke-width="1"/>
<rect x="198.07" y="641.15" width="6.5" height="6.5" fill="#ff7f0e" stroke="#ff7f0e" stroke-width="1"/>
<rect x="244.18" y="560.55" width="6.5" height="6.5" fill="#ff7f0e" stroke="#ff7f0e" stroke-width="1"/>
<path d="M85.47,695.4L120.35,687.4L155.22,677.7L166.45,671.3L201.32,640.3L247.43,550.5" fill="none" stroke="#2ca02c" stroke-width="1.5" stroke-linejoin="round" stroke-linecap="butt" stroke-dasharray="1.5,2.475"/>
<path d="M85.47,692.15L82.22,698.65L88.72,698.65Z" fill="#2ca02c" stroke="#2ca02c" stroke-width="1"/>
<path d="M120.35,684.15L117.1,690.65L123.6,690.65Z" fill="#2ca02c" stroke="#2ca02c" stroke-width="1"/>
<path d="M155.22,674.45L151.97,680.95L158.47,680.95Z" fill="#2ca02c" stroke="#2ca02c" stroke-width="1"/>
<path d="M166.45,668.05L163.2,674.55L169.7,674.55Z" fill="#2ca02c" stroke="#2ca02c" stroke-width="1"/>
<path d="M201.32,637.05L198.07,643.55L204.57,643.55Z" fill="#2ca02c" stroke="#2ca02c" stroke-width="1"/>
<path d="M247.43,547.25L244.18,553.75L250.68,553.75Z" fill="#2ca02c" stroke="#2ca02c" stroke-width="1"/>
<path d="M85.47,691.4L120.35,685L155.22,673.7L166.45,668.1L201.32,633L247.43,538.3" fill="none" stroke="#d62728" stroke-width="1.5" stroke-linejoin="round" stroke-linecap="butt" stroke-dasharray="9.6,2.4,1.5,2.4"/>
<path d="M85.47,688.15V694.65" stroke="#d62728" stroke-width="1" fill="none"/>
<path d="M120.35,681.75V688.25" stroke="#d62728" stroke-width="1" fill="none"/>
<path d="M155.22,670.45V676.95" stroke="#d62728" stroke-width="1" fill="none"/>
<path d="M166.45,664.85V671.35" stroke="#d62728" stroke-width="1" fill="none"/>
<path d="M201.32,629.75V636.25" stroke="#d62728" stroke-width="1" fill="none"/>
<path d="M247.43,535.05V541.55" stroke="#d62728" stroke-width="1" fill="none"/>
</g>
<rect x="50.6" y="532.3" width="231.7" height="173.2" fill="none" stroke="#222" stroke-width="0.9"/>
<text x="43.6" y="706.47" font-family="'Liberation Serif', serif" font-size="10.5" text-anchor="end">0e+00</text>
<text x="43.6" y="681.22" font-family="'Liberation Serif', serif" font-size="10.5" text-anchor="end">5e+04</text>
<text x="43.6" y="655.97" font-family="'Liberation Serif', serif" font-size="10.5" text-anchor="end">1e+05</text>
<text x="43.6" y="630.72" font-family="'Liberation Serif', serif" font-size="10.5" text-anchor="end">2e+05</text>
<text x="43.6" y="605.47" font-family="'Liberation Serif', serif" font-size="10.5" text-anchor="end">2e+05</text>
<text x="43.6" y="580.22" font-family="'Liberation Serif', serif" font-size="10.5" text-anchor="end">2e+05</text>
<text x="43.6" y="554.97" font-family="'Liberation Serif', serif" font-size="10.5" text-anchor="end">3e+05</text>
<path d="M47,702.6H50.6M47,677.35H50.6M47,652.1H50.6M47,626.85H50.6M47,601.6H50.6M47,576.35H50.6M47,551.1H50.6" stroke="#000" stroke-width="1"/>
<text x="50.6" y="722" font-family="'Liberation Serif', serif" font-size="10" text-anchor="middle">10<tspan font-size="7" dy="-6">1</tspan></text>
<text x="166.45" y="722" font-family="'Liberation Serif', serif" font-size="10" text-anchor="middle">10<tspan font-size="7" dy="-6">2</tspan></text>
<text x="282.3" y="722" font-family="'Liberation Serif', serif" font-size="10" text-anchor="middle">10<tspan font-size="7" dy="-6">3</tspan></text>
<path d="M50.6,705.5V709.5M166.45,705.5V709.5M282.3,705.5V709.5" stroke="#000" stroke-width="0.8"/>
<path d="M85.47,705.5V707.5M105.87,705.5V707.5M120.35,705.5V707.5M131.58,705.5V707.5M140.75,705.5V707.5M148.5,705.5V707.5M155.22,705.5V707.5M161.15,705.5V707.5M201.32,705.5V707.5M221.72,705.5V707.5M236.2,705.5V707.5M247.43,705.5V707.5M256.6,705.5V707.5M264.35,705.5V707.5M271.07,705.5V707.5M277,705.5V707.5" stroke="#000" stroke-width="0.6"/>
<text transform="translate(10,619.3) rotate(-90)" font-family="'Liberation Serif', serif" font-size="13.67" text-anchor="middle">Operation cost (CNY)</text>
<text x="166.7" y="742" font-size="14" text-anchor="middle" font-family="'Liberation Serif', serif"><tspan font-family="'Liberation Sans', sans-serif" font-style="italic" font-size="14.7">λ</tspan><tspan font-family="'Liberation Sans', sans-serif" font-size="10.5" dy="2.8">0</tspan><tspan dy="-2.8"> (pax/h/km</tspan><tspan font-family="'Liberation Sans', sans-serif" font-size="9.8" dy="-4.62">2</tspan><tspan dy="4.62">)</tspan></text>
<text x="21.3" y="777.4" font-family="'Liberation Serif', serif" font-size="17.4" text-anchor="start" xml:space="preserve" class="cap">(e) Operation costs for the agency</text>
<rect x="55.6" y="537.3" width="68.7" height="61.7" rx="2" fill="#fff" fill-opacity="0.8" stroke="#ccc" stroke-width="0.8"/>
<path d="M60,544.9L80.5,544.9" fill="none" stroke="#1f77b4" stroke-width="1.5" stroke-linejoin="round" stroke-linecap="square"/>
<circle cx="70.25" cy="544.9" r="3.25" fill="#1f77b4" stroke="#1f77b4" stroke-width="1"/>
<text x="89.6" y="548.8" font-family="'Liberation Serif', serif" font-size="10" text-anchor="start">ED-OF</text>
<path d="M60,560.1L80.5,560.1" fill="none" stroke="#ff7f0e" stroke-width="1.5" stroke-linejoin="round" stroke-linecap="butt" stroke-dasharray="5.55,2.4"/>
<rect x="67" y="556.85" width="6.5" height="6.5" fill="#ff7f0e" stroke="#ff7f0e" stroke-width="1"/>
<text x="89.6" y="564" font-family="'Liberation Serif', serif" font-size="10" text-anchor="start">FD-OF</text>
<path d="M60,575.3L80.5,575.3" fill="none" stroke="#2ca02c" stroke-width="1.5" stroke-linejoin="round" stroke-linecap="butt" stroke-dasharray="1.5,2.475"/>
<path d="M70.25,572.05L67,578.55L73.5,578.55Z" fill="#2ca02c" stroke="#2ca02c" stroke-width="1"/>
<text x="89.6" y="579.2" font-family="'Liberation Serif', serif" font-size="10" text-anchor="start">ED-FF</text>
<path d="M60,589.9L80.5,589.9" fill="none" stroke="#d62728" stroke-width="1.5" stroke-linejoin="round" stroke-linecap="butt" stroke-dasharray="9.6,2.4,1.5,2.4"/>
<path d="M70.25,586.65V593.15" stroke="#d62728" stroke-width="1" fill="none"/>
<text x="89.6" y="593.8" font-family="'Liberation Serif', serif" font-size="10" text-anchor="start">ED-NF</text>
<clipPath id="clip5"><rect x="396.6" y="532.4" width="232.1" height="173.4"/></clipPath>
<g clip-path="url(#clip5)">
<path d="M431.53,540.4L466.47,540.4L501.4,540.4L512.65,540.4L547.58,540.4L593.77,540.4" fill="none" stroke="#1f77b4" stroke-width="1.5" stroke-linejoin="round" stroke-linecap="square"/>
<circle cx="431.53" cy="540.4" r="3.25" fill="#1f77b4" stroke="#1f77b4" stroke-width="1"/>
<circle cx="466.47" cy="540.4" r="3.25" fill="#1f77b4" stroke="#1f77b4" stroke-width="1"/>
<circle cx="501.4" cy="540.4" r="3.25" fill="#1f77b4" stroke="#1f77b4" stroke-width="1"/>
<circle cx="512.65" cy="540.4" r="3.25" fill="#1f77b4" stroke="#1f77b4" stroke-width="1"/>
<circle cx="547.58" cy="540.4" r="3.25" fill="#1f77b4" stroke="#1f77b4" stroke-width="1"/>
<circle cx="593.77" cy="540.4" r="3.25" fill="#1f77b4" stroke="#1f77b4" stroke-width="1"/>
<path d="M431.53,540.4L466.47,540.4L501.4,540.4L512.65,540.4L547.58,540.4L593.77,540.4" fill="none" stroke="#ff7f0e" stroke-width="1.5" stroke-linejoin="round" stroke-linecap="butt" stroke-dasharray="5.55,2.4"/>
<rect x="428.28" y="537.15" width="6.5" height="6.5" fill="#ff7f0e" stroke="#ff7f0e" stroke-width="1"/>
<rect x="463.22" y="537.15" width="6.5" height="6.5" fill="#ff7f0e" stroke="#ff7f0e" stroke-width="1"/>
<rect x="498.15" y="537.15" width="6.5" height="6.5" fill="#ff7f0e" stroke="#ff7f0e" stroke-width="1"/>
<rect x="509.4" y="537.15" width="6.5" height="6.5" fill="#ff7f0e" stroke="#ff7f0e" stroke-width="1"/>
<rect x="544.33" y="537.15" width="6.5" height="6.5" fill="#ff7f0e" stroke="#ff7f0e" stroke-width="1"/>
<rect x="590.52" y="537.15" width="6.5" height="6.5" fill="#ff7f0e" stroke="#ff7f0e" stroke-width="1"/>
<path d="M431.53,546.2L466.47,547.5L501.4,548.1L512.65,549.7L547.58,554.5L593.77,567.7" fill="none" stroke="#2ca02c" stroke-width="1.5" stroke-linejoin="round" stroke-linecap="butt" stroke-dasharray="1.5,2.475"/>
<path d="M431.53,542.95L428.28,549.45L434.78,549.45Z" fill="#2ca02c" stroke="#2ca02c" stroke-width="1"/>
<path d="M466.47,544.25L463.22,550.75L469.72,550.75Z" fill="#2ca02c" stroke="#2ca02c" stroke-width="1"/>
<path d="M501.4,544.85L498.15,551.35L504.65,551.35Z" fill="#2ca02c" stroke="#2ca02c" stroke-width="1"/>
<path d="M512.65,546.45L509.4,552.95L515.9,552.95Z" fill="#2ca02c" stroke="#2ca02c" stroke-width="1"/>
<path d="M547.58,551.25L544.33,557.75L550.83,557.75Z" fill="#2ca02c" stroke="#2ca02c" stroke-width="1"/>
<path d="M593.77,564.45L590.52,570.95L597.02,570.95Z" fill="#2ca02c" stroke="#2ca02c" stroke-width="1"/>
<path d="M431.53,551.3L466.47,557.1L501.4,569L512.65,575.4L547.58,606.2L593.77,698.4" fill="none" stroke="#d62728" stroke-width="1.5" stroke-linejoin="round" stroke-linecap="butt" stroke-dasharray="9.6,2.4,1.5,2.4"/>
<path d="M431.53,548.05V554.55" stroke="#d62728" stroke-width="1" fill="none"/>
<path d="M466.47,553.85V560.35" stroke="#d62728" stroke-width="1" fill="none"/>
<path d="M501.4,565.75V572.25" stroke="#d62728" stroke-width="1" fill="none"/>
<path d="M512.65,572.15V578.65" stroke="#d62728" stroke-width="1" fill="none"/>
<path d="M547.58,602.95V609.45" stroke="#d62728" stroke-width="1" fill="none"/>
<path d="M593.77,695.15V701.65" stroke="#d62728" stroke-width="1" fill="none"/>
</g>
<rect x="396.6" y="532.4" width="232.1" height="173.4" fill="none" stroke="#222" stroke-width="0.9"/>
<text x="389.6" y="544.9" font-family="'Liberation Serif', serif" font-size="10" text-anchor="end">0e+00</text>
<text x="389.6" y="569.25" font-family="'Liberation Serif', serif" font-size="10" text-anchor="end">-5e+04</text>
<text x="389.6" y="593.6" font-family="'Liberation Serif', serif" font-size="10" text-anchor="end">-1e+05</text>
<text x="389.6" y="617.95" font-family="'Liberation Serif', serif" font-size="10" text-anchor="end">-2e+05</text>
<text x="389.6" y="642.3" font-family="'Liberation Serif', serif" font-size="10" text-anchor="end">-2e+05</text>
<text x="389.6" y="666.65" font-family="'Liberation Serif', serif" font-size="10" text-anchor="end">-2e+05</text>
<text x="389.6" y="691" font-family="'Liberation Serif', serif" font-size="10" text-anchor="end">-3e+05</text>
<path d="M393,541.2H396.6M393,565.55H396.6M393,589.9H396.6M393,614.25H396.6M393,638.6H396.6M393,662.95H396.6M393,687.3H396.6" stroke="#000" stroke-width="1"/>
<text x="396.6" y="722.3" font-family="'Liberation Serif', serif" font-size="10" text-anchor="middle">10<tspan font-size="7" dy="-6">1</tspan></text>
<text x="512.65" y="722.3" font-family="'Liberation Serif', serif" font-size="10" text-anchor="middle">10<tspan font-size="7" dy="-6">2</tspan></text>
<text x="628.7" y="722.3" font-family="'Liberation Serif', serif" font-size="10" text-anchor="middle">10<tspan font-size="7" dy="-6">3</tspan></text>
<path d="M396.6,705.8V709.8M512.65,705.8V709.8M628.7,705.8V709.8" stroke="#000" stroke-width="0.8"/>
<path d="M431.53,705.8V707.8M451.97,705.8V707.8M466.47,705.8V707.8M477.72,705.8V707.8M486.9,705.8V707.8M494.67,705.8V707.8M501.4,705.8V707.8M507.34,705.8V707.8M547.58,705.8V707.8M568.02,705.8V707.8M582.52,705.8V707.8M593.77,705.8V707.8M602.95,705.8V707.8M610.72,705.8V707.8M617.45,705.8V707.8M623.39,705.8V707.8" stroke="#000" stroke-width="0.6"/>
<text transform="translate(353,618.6) rotate(-90)" font-family="'Liberation Serif', serif" font-size="13.6" text-anchor="middle">Agency revenue (CNY)</text>
<text x="512.8" y="742" font-size="14.3" text-anchor="middle" font-family="'Liberation Serif', serif"><tspan font-family="'Liberation Sans', sans-serif" font-style="italic" font-size="15.02">λ</tspan><tspan font-family="'Liberation Sans', sans-serif" font-size="10.73" dy="2.86">0</tspan><tspan dy="-2.86"> (pax/h/km</tspan><tspan font-family="'Liberation Sans', sans-serif" font-size="10.01" dy="-4.72">2</tspan><tspan dy="4.72">)</tspan></text>
<text x="418.8" y="777.8" font-family="'Liberation Serif', serif" font-size="17.5" text-anchor="start" xml:space="preserve" class="cap">(f) Agency Revenue</text>
<rect x="401.7" y="638" width="68.1" height="62.2" rx="2" fill="#fff" fill-opacity="0.8" stroke="#ccc" stroke-width="0.8"/>
<path d="M406,646.1L426.5,646.1" fill="none" stroke="#1f77b4" stroke-width="1.5" stroke-linejoin="round" stroke-linecap="square"/>
<circle cx="416.25" cy="646.1" r="3.25" fill="#1f77b4" stroke="#1f77b4" stroke-width="1"/>
<text x="435.3" y="650" font-family="'Liberation Serif', serif" font-size="10" text-anchor="start">ED-OF</text>
<path d="M406,660.7L426.5,660.7" fill="none" stroke="#ff7f0e" stroke-width="1.5" stroke-linejoin="round" stroke-linecap="butt" stroke-dasharray="5.55,2.4"/>
<rect x="413" y="657.45" width="6.5" height="6.5" fill="#ff7f0e" stroke="#ff7f0e" stroke-width="1"/>
<text x="435.3" y="664.6" font-family="'Liberation Serif', serif" font-size="10" text-anchor="start">FD-OF</text>
<path d="M406,675.5L426.5,675.5" fill="none" stroke="#2ca02c" stroke-width="1.5" stroke-linejoin="round" stroke-linecap="butt" stroke-dasharray="1.5,2.475"/>
<path d="M416.25,672.25L413,678.75L419.5,678.75Z" fill="#2ca02c" stroke="#2ca02c" stroke-width="1"/>
<text x="435.3" y="679.4" font-family="'Liberation Serif', serif" font-size="10" text-anchor="start">ED-FF</text>
<path d="M406,690.3L426.5,690.3" fill="none" stroke="#d62728" stroke-width="1.5" stroke-linejoin="round" stroke-linecap="butt" stroke-dasharray="9.6,2.4,1.5,2.4"/>
<path d="M416.25,687.05V693.55" stroke="#d62728" stroke-width="1" fill="none"/>
<text x="435.3" y="694.2" font-family="'Liberation Serif', serif" font-size="10" text-anchor="start">ED-NF</text>
</svg></body></html>
